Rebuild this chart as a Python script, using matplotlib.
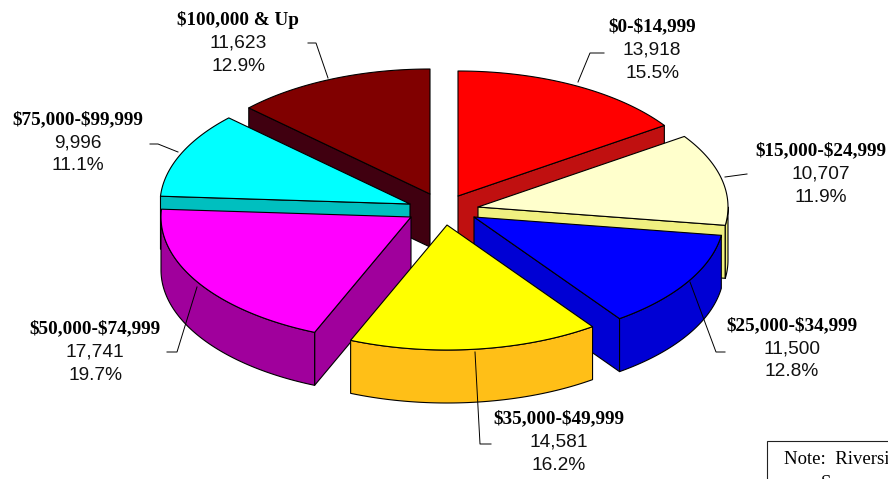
#!/usr/bin/env python3
"""Exploded 3D style pie of households by income band."""

import numpy as np
import matplotlib
matplotlib.use("Agg")
import matplotlib.pyplot as plt
from matplotlib.patches import Polygon, Rectangle

# Data
bands = ["$0-$14,999", "$15,000-$24,999", "$25,000-$34,999", "$35,000-$49,999",
         "$50,000-$74,999", "$75,000-$99,999", "$100,000 & Up"]
households = [13918, 10707, 11500, 14581, 17741, 9996, 11623]
shares = ["15.5%", "11.9%", "12.8%", "16.2%", "19.7%", "11.1%", "12.9%"]

# Styles
top_colors = ["#FF0000", "#FFFFCC", "#0000FF", "#FFFF00", "#FF00FF", "#00FFFF", "#800000"]
wall_colors = ["#C01010", "#F0F080", "#0000D4", "#FFBF17", "#A0009C", "#00BFBF", "#400010"]

# Layout, in pixels of the 888x479 picture
center = (441, 208)
rx, ry, depth = 250, 125, 53
explode = [(17, -12), (37, -1), (33, 9), (6, 17), (-30, 9), (-31, -4), (-11, -14)]
draw_order = [6, 0, 5, 1, 4, 2, 3]
label_xy = [(652, 27), (821, 151), (792, 326), (559, 419), (95, 329), (78, 120), (238, 20)]
leaders = [[(578, 82), (590, 53), (604, 53)],
           [(725, 177), (747, 174)],
           [(690, 282), (716, 352), (725, 352)],
           [(475, 352), (480, 444), (491, 444)],
           [(197, 287), (177, 352), (167, 352)],
           [(178, 152), (158, 144), (150, 144)],
           [(328, 78), (316, 43), (308, 43)]]

fig = plt.figure(figsize=(8.88, 4.79), dpi=100)
ax = fig.add_axes([0, 0, 1, 1])
ax.set_xlim(0, 888)
ax.set_ylim(479, 0)
ax.axis("off")

LW = 0.8


def rim(ox, oy, t1, t2, drop=0):
    t = np.radians(np.linspace(t1, t2, max(int(t2 - t1) * 2, 2)))
    return np.column_stack([ox + rx * np.sin(t), oy - ry * np.cos(t) + drop])


def face(points, color, z):
    ax.add_patch(Polygon(points, closed=True, facecolor=color, edgecolor="black",
                         linewidth=LW, joinstyle="round", zorder=z))


edges = np.concatenate([[0], np.cumsum(households)]) / sum(households) * 360

for z, i in enumerate(draw_order):
    t1, t2 = edges[i], edges[i + 1]
    ox, oy = center[0] + explode[i][0], center[1] + explode[i][1]

    # cut faces, only those turned towards the viewer
    for t, visible in ((t1, t1 > 180), (t2, t2 < 180)):
        if visible:
            end = rim(ox, oy, t, t + 1e-6)[0]
            face([(ox, oy), end, end + (0, depth), (ox, oy + depth)], wall_colors[i], z * 10 + 1)

    # outer wall along the front of the ellipse
    a, b = max(t1, 90), min(t2, 270)
    if a < b:
        arc = rim(ox, oy, a, b)
        face(np.vstack([arc, arc[::-1] + (0, depth)]), wall_colors[i], z * 10 + 2)

    face(np.vstack([[(ox, oy)], rim(ox, oy, t1, t2)]), top_colors[i], z * 10 + 3)

for pts in leaders:
    xs, ys = zip(*pts)
    ax.plot(xs, ys, color="black", lw=0.7, zorder=200)

for (x, y), band, n, share in zip(label_xy, bands, households, shares):
    ax.text(x, y, band, ha="center", va="center", family="Liberation Serif",
            weight="bold", fontsize=13.8, color="black", zorder=210, parse_math=False)
    ax.text(x, y + 23, f"{n:,}", ha="center", va="center", family="Liberation Sans",
            fontsize=13.8, color="#111111", zorder=210)
    ax.text(x, y + 46, share, ha="center", va="center", family="Liberation Sans",
            fontsize=13.8, color="#111111", zorder=210)

# Note box, cut off by the edge of the picture
ax.add_patch(Rectangle((767, 441), 140, 60, facecolor="white", edgecolor="#222222",
                       linewidth=0.8, clip_on=True, zorder=220))
ax.text(784, 459, "Note:  Riversi", ha="left", va="center", family="Liberation Serif",
        fontsize=13.5, color="black", zorder=221)
ax.text(821, 484, "S", ha="left", va="center", family="Liberation Serif",
        fontsize=13.5, color="black", zorder=221)

fig.savefig("out.png", dpi=100)
